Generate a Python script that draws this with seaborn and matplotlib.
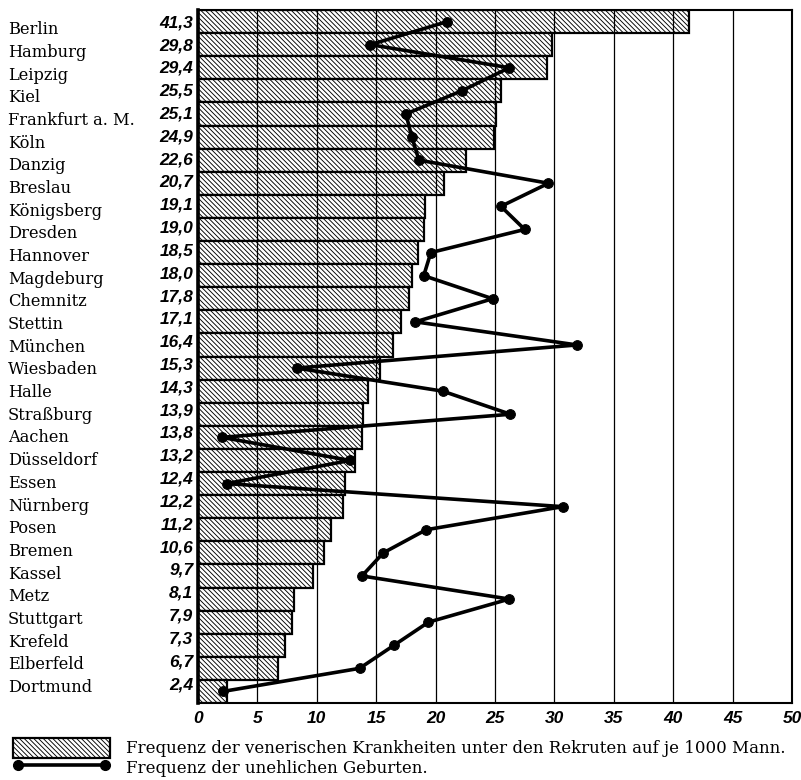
import matplotlib
matplotlib.use("Agg")
import matplotlib.pyplot as plt
import matplotlib.transforms as mtransforms
from matplotlib.patches import Patch
from matplotlib.lines import Line2D
import numpy as np
import seaborn as sns

# Städte, von oben nach unten
staedte = ["Berlin", "Hamburg", "Leipzig", "Kiel", "Frankfurt a. M.", "Köln",
           "Danzig", "Breslau", "Königsberg", "Dresden", "Hannover", "Magdeburg",
           "Chemnitz", "Stettin", "München", "Wiesbaden", "Halle", "Straßburg",
           "Aachen", "Düsseldorf", "Essen", "Nürnberg", "Posen", "Bremen",
           "Kassel", "Metz", "Stuttgart", "Krefeld", "Elberfeld", "Dortmund"]

# venerische Krankheiten unter den Rekruten auf je 1000 Mann
venerisch = [41.3, 29.8, 29.4, 25.5, 25.1, 24.9, 22.6, 20.7, 19.1, 19.0,
             18.5, 18.0, 17.8, 17.1, 16.4, 15.3, 14.3, 13.9, 13.8, 13.2,
             12.4, 12.2, 11.2, 10.6, 9.7, 8.1, 7.9, 7.3, 6.7, 2.4]

# uneheliche Geburten
unehelich = [21.0, 14.5, 26.2, 22.2, 17.5, 18.0, 18.6, 29.5, 25.5, 27.5,
             19.6, 19.0, 24.8, 18.3, 31.9, 8.3, 20.6, 26.3, 2.0, 12.8,
             2.4, 30.7, 19.2, 15.6, 13.8, 26.2, 19.4, 16.5, 13.6, 2.1]

x_ticks = [0, 5, 10, 15, 20, 25, 30, 35, 40, 45, 50]

legende = ["Frequenz der venerischen Krankheiten unter den Rekruten auf je 1000 Mann.",
           "Frequenz der unehlichen Geburten."]

sns.set_style("white")
plt.rcParams["hatch.linewidth"] = 0.65
plt.rcParams["hatch.color"] = "black"
plt.rcParams["text.color"] = "black"
plt.rcParams["xtick.color"] = "black"
plt.rcParams["ytick.color"] = "black"

fig = plt.figure(figsize=(8.01, 7.80), dpi=100)
ax = fig.add_axes([198 / 801, 1 - 703 / 780, (792 - 198) / 801, (703 - 10) / 780])

schraffur = "\\" * 7

sns.barplot(x=venerisch, y=staedte, orient="h", color="white", width=1.0,
            edgecolor="black", linewidth=1.6, hatch=schraffur, saturation=1,
            errorbar=None, ax=ax)

pos = np.arange(len(staedte))
sns.lineplot(x=unehelich, y=pos, sort=False, estimator=None, color="black",
             linewidth=2.6, marker="o", markersize=7, markeredgecolor="black",
             ax=ax, zorder=4)

ax.set_xlim(0, 50)
ax.set_ylim(len(staedte) - 0.5, -0.5)
ax.set_xticks(x_ticks)
ax.set_xticklabels([str(t) for t in x_ticks], fontfamily="Liberation Sans",
                   fontweight="bold", fontstyle="italic", fontsize=12.5)
ax.tick_params(axis="x", length=0, pad=6)
ax.set_yticks([])
ax.set_xlabel("")
ax.set_ylabel("")

ax.set_axisbelow(False)
ax.grid(axis="x", color="black", linewidth=0.9)
ax.grid(axis="y", visible=False)
for s in ax.spines.values():
    s.set_visible(True)
    s.set_color("black")
    s.set_linewidth(1.5)
ax.spines["left"].set_linewidth(2.6)

n = len(staedte)
trans = mtransforms.blended_transform_factory(fig.transFigure, ax.transData)
for i, (name, v) in enumerate(zip(staedte, venerisch)):
    ax.text(8 / 801, i + 0.35 - 0.52 * i / (n - 1), name, transform=trans,
            ha="left", va="center", fontfamily="DejaVu Serif", fontsize=11.7)
    ax.text(-0.4, i + 0.05 - 0.35 * i / (n - 1), f"{v:.1f}".replace(".", ","),
            ha="right", va="center", fontfamily="Liberation Sans",
            fontweight="bold", fontstyle="italic", fontsize=12.5)

handles = [Patch(facecolor="white", edgecolor="black", linewidth=1.6, hatch=schraffur),
           Line2D([], [], color="black", linewidth=2.6, marker="o", markersize=7)]
fig.legend(handles, legende, loc="upper left", bbox_to_anchor=(13 / 801, 1 - 738 / 780),
           frameon=False, borderpad=0, borderaxespad=0, handlelength=5.8,
           handleheight=1.45, handletextpad=1.0, labelspacing=0.0, numpoints=2,
           prop={"family": "DejaVu Serif", "size": 12})

fig.savefig("out.png", dpi=100)
